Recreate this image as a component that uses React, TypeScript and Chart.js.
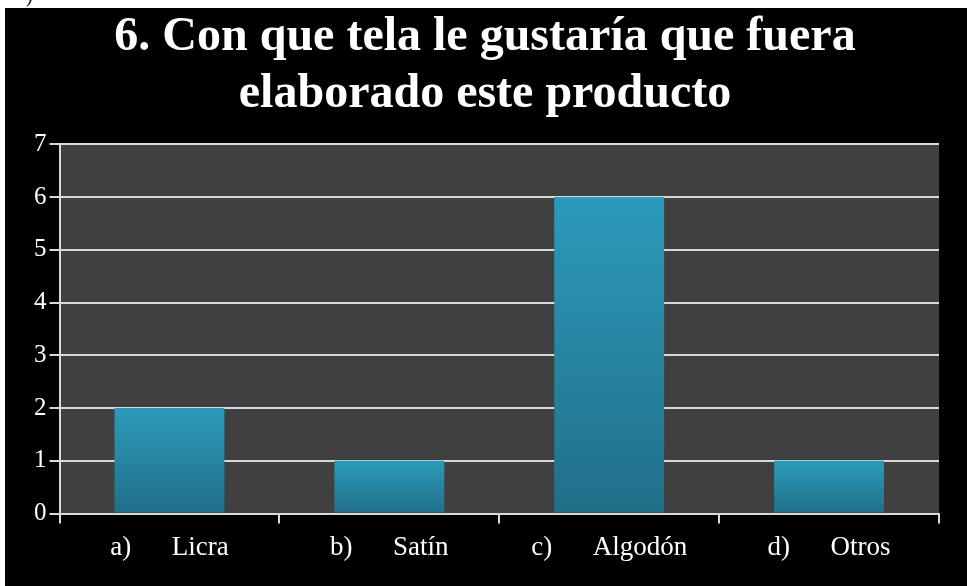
import React, { useEffect, useRef } from "react";
import { Chart, registerables } from "chart.js";

Chart.register(...registerables);

const titleLines = ["6. Con que tela le gustaría que fuera", "elaborado este producto"];
const categories = ["a)      Licra", "b)      Satín", "c)      Algodón", "d)      Otros"];
const values = [2, 1, 6, 1];
const yTicks = [0, 1, 2, 3, 4, 5, 6, 7];

const SERIF = "'Liberation Serif', 'Times New Roman', serif";

const plotBg = {
  id: "plotBg",
  beforeDraw(chart: any) {
    const { ctx, chartArea } = chart;
    if (!chartArea) return;
    ctx.save();
    ctx.fillStyle = "#404040";
    ctx.fillRect(chartArea.left, chartArea.top, chartArea.right - chartArea.left, chartArea.bottom - chartArea.top);
    ctx.restore();
  },
};

export default function App() {
  const ref = useRef<HTMLCanvasElement>(null);
  useEffect(() => {
    if (!ref.current) return;
    const chart = new Chart(ref.current, {
      type: "bar",
      data: {
        labels: categories,
        datasets: [
          {
            data: values,
            barPercentage: 0.5,
            categoryPercentage: 1,
            backgroundColor: (c: any) => {
              const ch = c.chart;
              const y = ch.scales && ch.scales.y;
              if (!y || c.raw === undefined) return "#2a8fae";
              const top = y.getPixelForValue(c.raw);
              const bot = y.getPixelForValue(0);
              if (!isFinite(top) || !isFinite(bot) || top === bot) return "#2a8fae";
              const g = ch.ctx.createLinearGradient(0, top, 0, bot);
              g.addColorStop(0, "#2c9aba");
              g.addColorStop(1, "#216f89");
              return g;
            },
            borderWidth: 0,
          },
        ],
      },
      options: {
        animation: false,
        responsive: false,
        maintainAspectRatio: false,
        layout: { padding: { left: 26, right: 28, top: 0, bottom: 14 } },
        plugins: {
          legend: { display: false },
          tooltip: { enabled: false },
          title: {
            display: true,
            text: titleLines,
            color: "#ffffff",
            font: { family: SERIF, size: 48, weight: "bold", lineHeight: 1.17 },
            padding: { top: 2, bottom: 22 },
          },
        },
        scales: {
          x: {
            offset: true,
            grid: {
              offset: true,
              drawOnChartArea: false,
              drawTicks: true,
              tickLength: 10,
              color: "#d9d9d9",
              lineWidth: 2,
            },
            border: { display: true, color: "#d9d9d9", width: 2 },
            ticks: {
              color: "#ffffff",
              font: { family: SERIF, size: 27 },
              padding: 8,
              maxRotation: 0,
              autoSkip: false,
            },
          },
          y: {
            min: 0,
            max: 7,
            afterBuildTicks: (axis: any) => {
              axis.ticks = yTicks.map((v) => ({ value: v }));
            },
            grid: {
              color: "#d9d9d9",
              lineWidth: 2,
              drawTicks: true,
              tickLength: 10,
            },
            border: { display: true, color: "#d9d9d9", width: 2 },
            ticks: {
              color: "#ffffff",
              font: { family: SERIF, size: 25 },
              padding: 3,
            },
          },
        },
      },
      plugins: [plotBg],
    });
    return () => chart.destroy();
  }, []);

  return (
    <div>
      <div
        style={{
          position: "fixed",
          left: 26,
          top: -16,
          fontFamily: SERIF,
          fontSize: 20,
          color: "#000",
        }}
      >
        )
      </div>
      <div
        style={{
          position: "fixed",
          left: 5,
          top: 8,
          width: 962,
          height: 578,
          background: "#000",
        }}
      >
        <canvas ref={ref} width={962} height={578} style={{ display: "block" }} />
      </div>
    </div>
  );
}
